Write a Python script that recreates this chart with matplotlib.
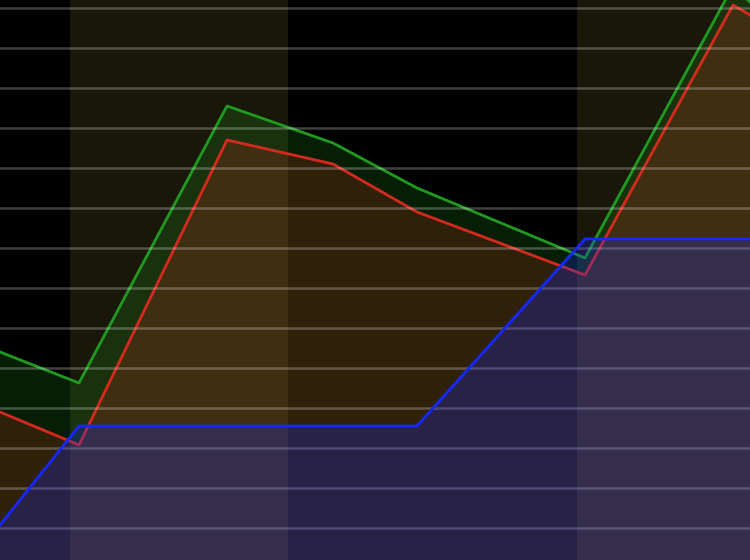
import matplotlib
matplotlib.use("Agg")
from matplotlib import pyplot as plt
import numpy as np

# x positions of the points and the three series
x = [0, 7.9, 22.7, 33.3, 41.7, 58.5, 73.3, 75]
green_vals = [4.4, 3.625, 10.55, 9.625, 8.5, 6.75, 13.55, 13.15]
red_vals = [2.9, 2.075, 9.7, 9.1, 7.9, 6.325, 13.075, 12.825]
blue_vals = [0.075, 2.55, 2.55, 2.55, 2.55, 7.225, 7.225, 7.225]

# highlighted x ranges
bands = [(7.0, 28.8), (57.7, 78.0)]

y_bottom, y_top = -0.8, 13.2

fig = plt.figure(figsize=(7.5, 5.6), dpi=100)
fig.patch.set_facecolor('black')
ax = fig.add_axes([0, 0, 1, 1])
ax.set_facecolor('black')

for start, end in bands:
    ax.axvspan(start, end, color='#ffe65a', alpha=0.1, linewidth=0, zorder=0)

series = [
    (green_vals, '#1f9a1f', 0.2),
    (red_vals, '#d42a1e', 0.2),
    (blue_vals, '#1428ff', 0.25),
]
z = 1
for vals, color, a in series:
    ax.fill_between(x, vals, y_bottom, color=color, alpha=a, linewidth=0, zorder=z)
    ax.plot(x, vals, color=color, linewidth=2, zorder=z + 0.5)
    z += 1

ax.set_xlim(0, 75)
ax.set_ylim(y_bottom, y_top)
ax.set_yticks(np.arange(0, 14))
ax.set_xticks([])
ax.yaxis.grid(True, color='white', alpha=0.25, linewidth=1.8)
ax.set_axisbelow(False)
ax.tick_params(length=0, labelleft=False, labelbottom=False)
for s in ax.spines.values():
    s.set_visible(False)

fig.savefig('out.png', dpi=100, facecolor='black')
